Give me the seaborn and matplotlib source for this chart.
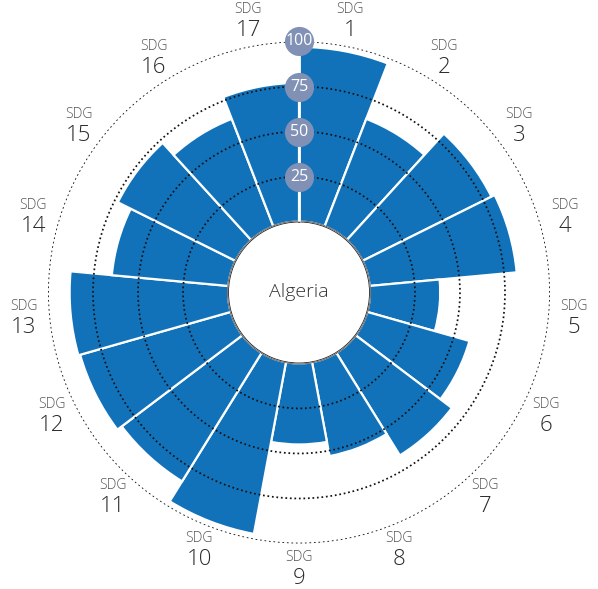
import numpy as np
import pandas as pd
import matplotlib
matplotlib.use("Agg")
import matplotlib.pyplot as plt
import seaborn as sns
from matplotlib.patches import Circle

# SDG scores for Algeria
goals = list(range(1, 18))
scores = [97, 64, 80, 82, 39, 59, 67, 53, 45, 97, 84, 87, 88, 65, 73, 64, 77]
ring_values = [25, 50, 75, 100]
country = "Algeria"

bar_color = "#1172ba"
badge_color = "#8191b6"

sns.set_theme(style="white")
plt.rcParams["font.family"] = ["Open Sans", "DejaVu Sans"]

n = len(goals)
step = 2 * np.pi / n
df = pd.DataFrame({
    "goal": goals,
    "theta": [(g - 0.5) * step for g in goals],
    "score": scores,
})

fig = plt.figure(figsize=(5.98, 5.89), dpi=100)
ax = fig.add_axes([0.5 - 0.41973, 0.5034 - 0.42615, 0.8395, 0.8523], projection="polar")
ax.set_theta_zero_location("N")
ax.set_theta_direction(-1)

sns.barplot(
    data=df, x="theta", y="score", native_scale=True, width=1.0,
    color=bar_color, saturation=1, edgecolor="white", linewidth=1.6,
    errorbar=None, ax=ax,
)

ax.set_ylim(0, 100)
ax.set_rorigin(-39.4)
ax.set_xlabel("")
ax.set_ylabel("")
ax.set_xticks([])
ax.set_yticks(ring_values)
ax.set_yticklabels([])
ax.spines["polar"].set_visible(False)
ax.xaxis.grid(False)
ax.yaxis.grid(True, color="#111111", linestyle=(0, (1, 1.6)), linewidth=1.25)
ax.set_axisbelow(False)
ax.tick_params(length=0)

# white hole in the middle
hole = Circle((0.5, 0.5), 71 / 502, transform=ax.transAxes, facecolor="white",
              edgecolor="#c8c8c8", linewidth=0.5, zorder=3)
ax.add_patch(hole)
ax.text(0.5, 0.5, country, transform=ax.transAxes, ha="center", va="center",
        fontsize=14, color="#333333", fontweight="light", zorder=6)

# vertical scale line with badges
ax.plot([0, 0], [0, 100], color="white", linewidth=2, zorder=4, solid_capstyle="butt")
ax.scatter([0] * len(ring_values), ring_values, s=440, color=badge_color,
           zorder=5, linewidths=0, clip_on=False)
for v in ring_values:
    ax.text(0, v, str(v), ha="center", va="center", color="white", fontsize=11.5,
            zorder=6, clip_on=False)

# SDG labels around the outside
label_r = 114
for g, th in zip(df["goal"], df["theta"]):
    ax.annotate("SDG", (th, label_r), xytext=(0, 8), textcoords="offset points",
                ha="center", va="center", fontsize=10, color="#555555",
                fontweight="light", annotation_clip=False)
    ax.annotate(str(g), (th, label_r), xytext=(0, -7), textcoords="offset points",
                ha="center", va="center", fontsize=16, color="#2a2a2a",
                fontweight="light", annotation_clip=False)

fig.savefig("out.png", dpi=100, facecolor="white")
